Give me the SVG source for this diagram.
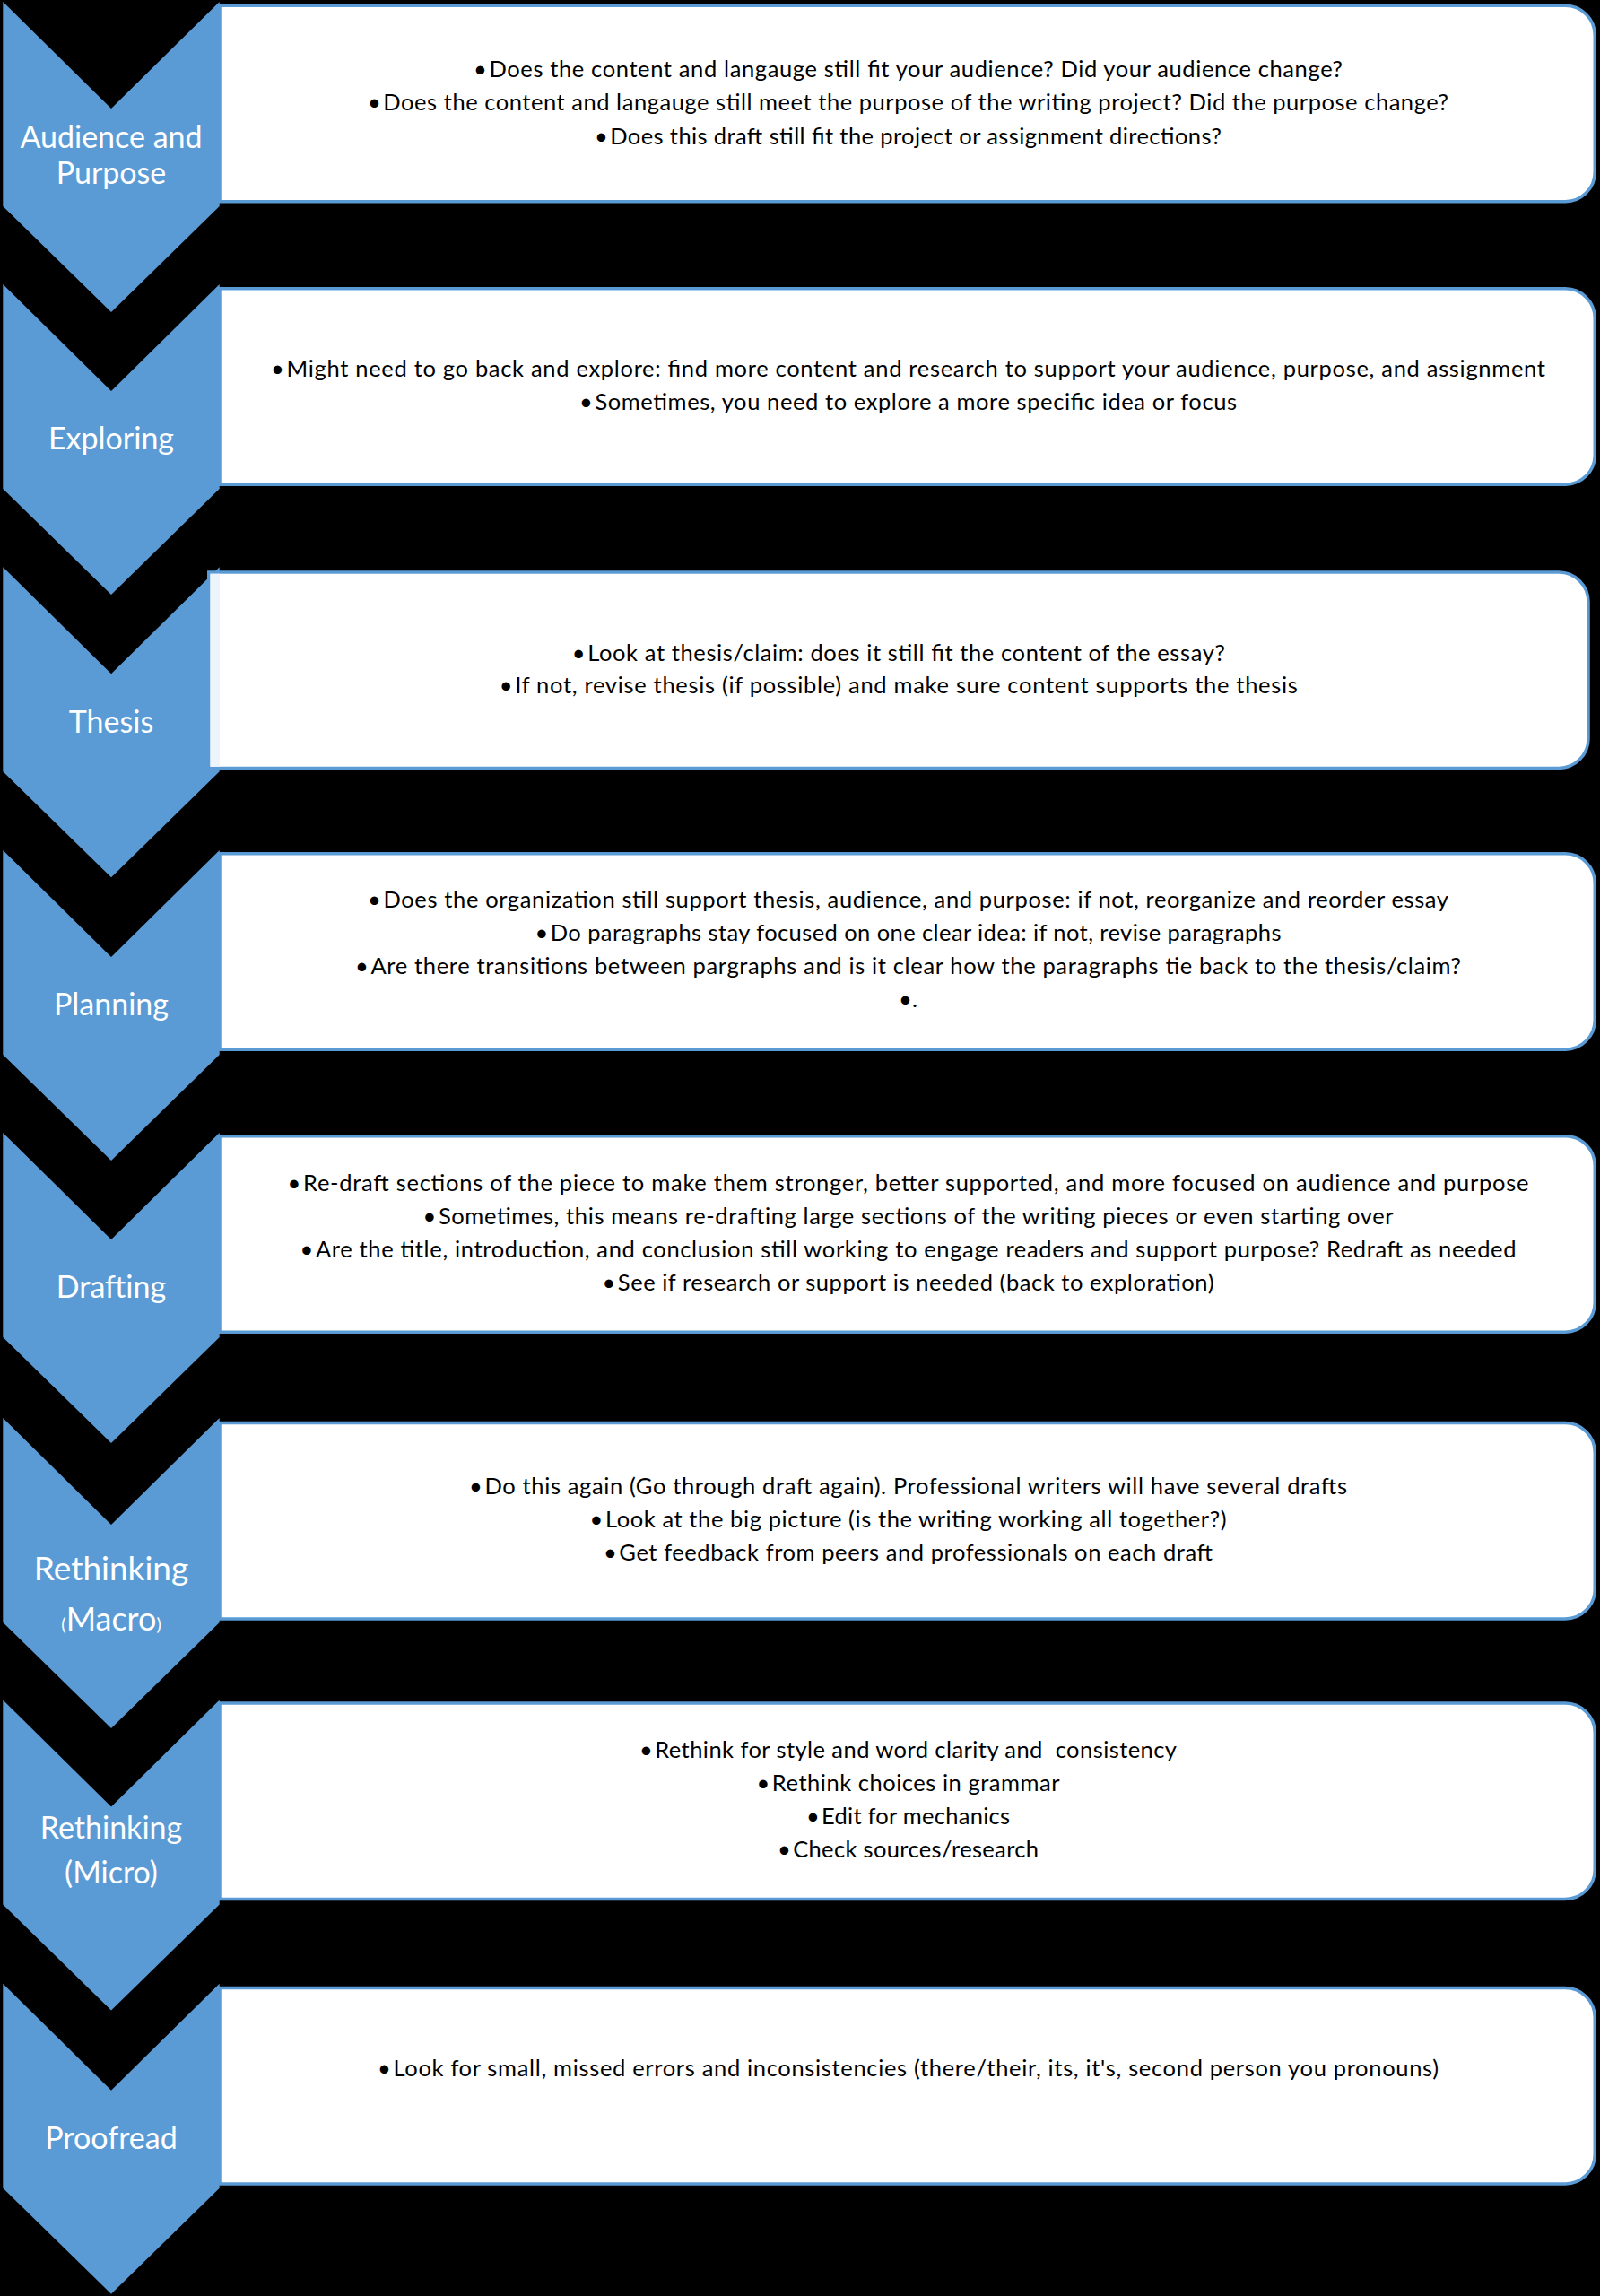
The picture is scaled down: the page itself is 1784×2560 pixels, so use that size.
<svg xmlns="http://www.w3.org/2000/svg" width="1784" height="2560" viewBox="0 0 1784 2560">
<style>
.chev{fill:#5B9BD5}
.box{fill:#FFFFFF;stroke:#5B9BD5;stroke-width:3.5}
.lbl{font-family:Lato,"Liberation Sans",sans-serif;font-size:34px;fill:#FFFFFF;text-anchor:middle}
.txt{font-family:Lato,"Liberation Sans",sans-serif;font-size:25.5px;fill:#000000;text-anchor:middle}
</style>
<rect x="0" y="0" width="1784" height="2560" fill="#000000"/>
<g id="connectors"></g>

<g id="node-audience">
<path class="chev" d="M3.3,2 L124,121 L244.7,2 L244.7,230 L124,348 L3.3,230 Z"/>
<path class="box" d="M245,6.25 H1745.25 A33,33 0 0 1 1778.25,39.25 V191.75 A33,33 0 0 1 1745.25,224.75 H245 Z"/>
<text class="lbl" x="124" y="165">Audience and</text>
<text class="lbl" x="124" y="205">Purpose</text>
<text class="txt" x="1012.5" y="86" textLength="969">•<tspan dx="2">Does the content and langauge still fit your audience? Did your audience change?</tspan></text>
<text class="txt" x="1012.5" y="123.3" textLength="1205">•<tspan dx="2">Does the content and langauge still meet the purpose of the writing project? Did the purpose change?</tspan></text>
<text class="txt" x="1012.5" y="160.5" textLength="699">•<tspan dx="2">Does this draft still fit the project or assignment directions?</tspan></text>
</g>

<g id="node-exploring">
<path class="chev" d="M3.3,317 L124,436 L244.7,317 L244.7,545 L124,663 L3.3,545 Z"/>
<path class="box" d="M245,321.75 H1745.25 A33,33 0 0 1 1778.25,354.75 V507.25 A33,33 0 0 1 1745.25,540.25 H245 Z"/>
<text class="lbl" x="124" y="501">Exploring</text>
<text class="txt" x="1012.5" y="420" textLength="1421">•<tspan dx="2">Might need to go back and explore: find more content and research to support your audience, purpose, and assignment</tspan></text>
<text class="txt" x="1012.5" y="457" textLength="733">•<tspan dx="2">Sometimes, you need to explore a more specific idea or focus</tspan></text>
</g>

<g id="node-thesis">
<path class="chev" d="M3.3,632.3 L124,751.3 L244.7,632.3 L244.7,860.3 L124,978.3 L3.3,860.3 Z"/>
<path class="box" d="M232.75,638 H1738 A33,33 0 0 1 1771,671 V823.5 A33,33 0 0 1 1738,856.5 H232.75 Z"/>
<rect x="234.5" y="639.75" width="10.5" height="215" fill="#EEF4FB"/>
<text class="lbl" x="124" y="817.3">Thesis</text>
<text class="txt" x="1001.8" y="736.5" textLength="728">•<tspan dx="2">Look at thesis/claim: does it still fit the content of the essay?</tspan></text>
<text class="txt" x="1001.8" y="773.3" textLength="890">•<tspan dx="2">If not, revise thesis (if possible) and make sure content supports the thesis</tspan></text>
</g>

<g id="node-planning">
<path class="chev" d="M3.3,948 L124,1067 L244.7,948 L244.7,1176 L124,1294 L3.3,1176 Z"/>
<path class="box" d="M245,951.75 H1745.25 A33,33 0 0 1 1778.25,984.75 V1137.25 A33,33 0 0 1 1745.25,1170.25 H245 Z"/>
<text class="lbl" x="124" y="1132">Planning</text>
<text class="txt" x="1012.5" y="1012" textLength="1205">•<tspan dx="2">Does the organization still support thesis, audience, and purpose: if not, reorganize and reorder essay</tspan></text>
<text class="txt" x="1012.5" y="1049" textLength="832">•<tspan dx="2">Do paragraphs stay focused on one clear idea: if not, revise paragraphs</tspan></text>
<text class="txt" x="1012.5" y="1086" textLength="1233">•<tspan dx="2">Are there transitions between pargraphs and is it clear how the paragraphs tie back to the thesis/claim?</tspan></text>
<text class="txt" x="1012.5" y="1123">•.</text>
</g>

<g id="node-drafting">
<path class="chev" d="M3.3,1263 L124,1382 L244.7,1263 L244.7,1491 L124,1609 L3.3,1491 Z"/>
<path class="box" d="M245,1266.75 H1745.25 A33,33 0 0 1 1778.25,1299.75 V1452.25 A33,33 0 0 1 1745.25,1485.25 H245 Z"/>
<text class="lbl" x="124" y="1447">Drafting</text>
<text class="txt" x="1012.5" y="1328.3" textLength="1384">•<tspan dx="2">Re-draft sections of the piece to make them stronger, better supported, and more focused on audience and purpose</tspan></text>
<text class="txt" x="1012.5" y="1365" textLength="1082">•<tspan dx="2">Sometimes, this means re-drafting large sections of the writing pieces or even starting over</tspan></text>
<text class="txt" x="1012.5" y="1402.3" textLength="1356">•<tspan dx="2">Are the title, introduction, and conclusion still working to engage readers and support purpose? Redraft as needed</tspan></text>
<text class="txt" x="1012.5" y="1439" textLength="682">•<tspan dx="2">See if research or support is needed (back to exploration)</tspan></text>
</g>

<g id="node-rethinking-macro">
<path class="chev" d="M3.3,1581 L124,1700 L244.7,1581 L244.7,1809 L124,1927 L3.3,1809 Z"/>
<path class="box" d="M245,1586.5 H1745.25 A33,33 0 0 1 1778.25,1619.5 V1772 A33,33 0 0 1 1745.25,1805 H245 Z"/>
<text class="lbl" x="124" y="1761.5" style="font-size:37px">Rethinking</text>
<text class="lbl" x="124" y="1817.5" style="font-size:36px"><tspan style="font-size:20px">(</tspan>Macro<tspan style="font-size:20px">)</tspan></text>
<text class="txt" x="1012.5" y="1666" textLength="979">•<tspan dx="2">Do this again (Go through draft again). Professional writers will have several drafts</tspan></text>
<text class="txt" x="1012.5" y="1703" textLength="710">•<tspan dx="2">Look at the big picture (is the writing working all together?)</tspan></text>
<text class="txt" x="1012.5" y="1740" textLength="679">•<tspan dx="2">Get feedback from peers and professionals on each draft</tspan></text>
</g>

<g id="node-rethinking-micro">
<path class="chev" d="M3.3,1895.5 L124,2014.5 L244.7,1895.5 L244.7,2123.5 L124,2241.5 L3.3,2123.5 Z"/>
<path class="box" d="M245,1899 H1745.25 A33,33 0 0 1 1778.25,1932 V2084.5 A33,33 0 0 1 1745.25,2117.5 H245 Z"/>
<text class="lbl" x="124" y="2050">Rethinking</text>
<text class="lbl" x="124" y="2100">(Micro)</text>
<text class="txt" x="1012.5" y="1960.3" textLength="599" xml:space="preserve">•<tspan dx="2">Rethink for style and word clarity and  consistency</tspan></text>
<text class="txt" x="1012.5" y="1997.3" textLength="338">•<tspan dx="2">Rethink choices in grammar</tspan></text>
<text class="txt" x="1012.5" y="2034.3" textLength="227">•<tspan dx="2">Edit for mechanics</tspan></text>
<text class="txt" x="1012.5" y="2071.3" textLength="291">•<tspan dx="2">Check sources/research</tspan></text>
</g>

<g id="node-proofread">
<path class="chev" d="M3.3,2211.7 L124,2330.7 L244.7,2211.7 L244.7,2439.7 L124,2557.7 L3.3,2439.7 Z"/>
<path class="box" d="M245,2216.5 H1745.25 A33,33 0 0 1 1778.25,2249.5 V2402 A33,33 0 0 1 1745.25,2435 H245 Z"/>
<text class="lbl" x="124" y="2395.7">Proofread</text>
<text class="txt" x="1012.5" y="2315" textLength="1183">•<tspan dx="2">Look for small, missed errors and inconsistencies (there/their, its, it's, second person you pronouns)</tspan></text>
</g>
</svg>
